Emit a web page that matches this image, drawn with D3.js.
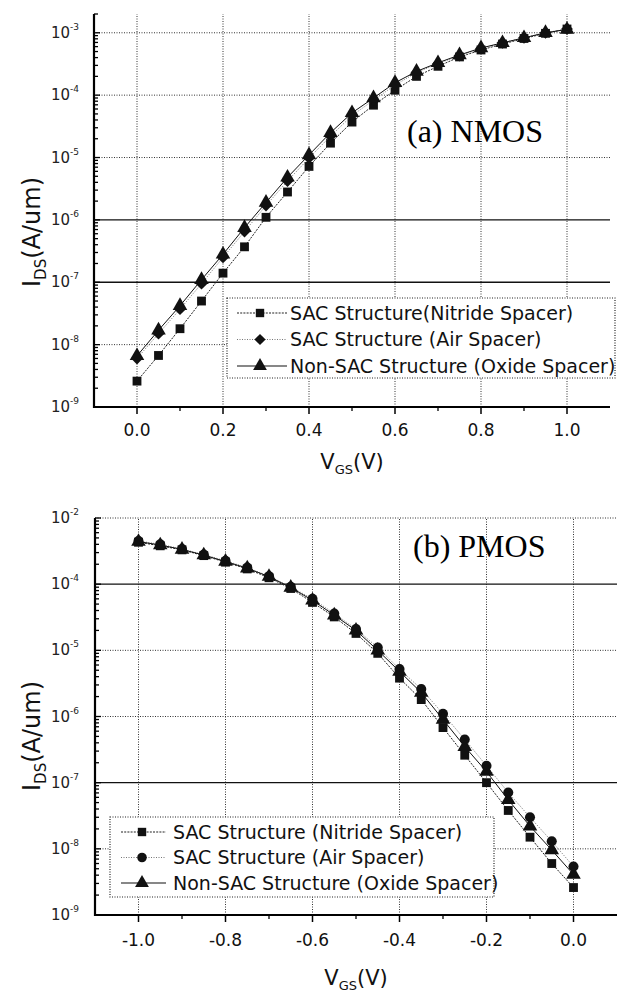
<!DOCTYPE html>
<html>
<head>
<meta charset="utf-8">
<script src="https://cdn.jsdelivr.net/npm/d3@7"></script>
<style>
  body { margin: 0; background: #fff; }
  svg { display: block; font-family: 'DejaVu Sans', sans-serif; }
</style>
</head>
<body>
<div id="container"></div>
<script>
// (a) NMOS, Vgs 0 .. 1.0 V
const vgsN = [0, 0.05, 0.1, 0.15, 0.2, 0.25, 0.3, 0.35, 0.4, 0.45, 0.5,
  0.55, 0.6, 0.65, 0.7, 0.75, 0.8, 0.85, 0.9, 0.95, 1.0];
const nmosNitride = [2.6e-9, 6.7e-9, 1.8e-8, 5.0e-8, 1.4e-7, 3.7e-7, 1.1e-6, 2.8e-6, 7.2e-6, 1.7e-5, 3.7e-5,
  6.9e-5, 1.2e-4, 2.0e-4, 2.9e-4, 4.1e-4, 5.3e-4, 6.6e-4, 8.1e-4, 9.8e-4, 1.15e-3];
const nmosAir = [6.0e-9, 1.5e-8, 3.7e-8, 9.5e-8, 2.5e-7, 6.5e-7, 1.7e-6, 4.2e-6, 9.8e-6, 2.2e-5, 4.7e-5,
  8.3e-5, 1.45e-4, 2.3e-4, 3.2e-4, 4.3e-4, 5.6e-4, 6.9e-4, 8.3e-4, 1.0e-3, 1.15e-3];
const nmosOxide = [6.6e-9, 1.7e-8, 4.2e-8, 1.1e-7, 2.8e-7, 7.5e-7, 1.9e-6, 4.8e-6, 1.1e-5, 2.5e-5, 5.2e-5,
  9.0e-5, 1.58e-4, 2.4e-4, 3.3e-4, 4.4e-4, 5.7e-4, 6.9e-4, 8.3e-4, 1.0e-3, 1.13e-3];

// (b) PMOS, Vgs -1.0 .. 0 V
const vgsP = [-1.0, -0.95, -0.9, -0.85, -0.8, -0.75, -0.7, -0.65, -0.6, -0.55, -0.5,
  -0.45, -0.4, -0.35, -0.3, -0.25, -0.2, -0.15, -0.1, -0.05, 0];
const pmosNitride = [4.3e-4, 3.8e-4, 3.3e-4, 2.7e-4, 2.15e-4, 1.7e-4, 1.25e-4, 8.6e-5, 5.3e-5, 3.2e-5, 1.8e-5,
  9.0e-6, 3.8e-6, 1.8e-6, 6.8e-7, 2.6e-7, 1.0e-7, 3.8e-8, 1.5e-8, 6.0e-9, 2.6e-9];
const pmosAir = [4.5e-4, 4.0e-4, 3.4e-4, 2.8e-4, 2.25e-4, 1.78e-4, 1.32e-4, 9.1e-5, 6.0e-5, 3.6e-5, 2.1e-5,
  1.1e-5, 5.2e-6, 2.6e-6, 1.1e-6, 4.5e-7, 1.8e-7, 7.1e-8, 3.0e-8, 1.3e-8, 5.4e-9];
const pmosOxide = [4.4e-4, 3.9e-4, 3.35e-4, 2.75e-4, 2.2e-4, 1.74e-4, 1.3e-4, 8.9e-5, 5.7e-5, 3.4e-5, 2.0e-5,
  1.0e-5, 4.8e-6, 2.3e-6, 9.0e-7, 3.5e-7, 1.47e-7, 5.5e-8, 2.2e-8, 9.6e-9, 4.1e-9];

const xTicksN = [0, 0.2, 0.4, 0.6, 0.8, 1.0];
const xTicksP = [-1.0, -0.8, -0.6, -0.4, -0.2, 0];
const yTicks = [1e-9, 1e-8, 1e-7, 1e-6, 1e-5, 1e-4, 1e-3];
const yExpN = ['-9', '-8', '-7', '-6', '-5', '-4', '-3'];
const yExpP = ['-9', '-8', '-7', '-6', '-5', '-4', '-2'];
const legendN = ['SAC Structure(Nitride Spacer)', 'SAC Structure (Air Spacer)', 'Non-SAC Structure (Oxide Spacer)'];
const legendP = ['SAC Structure (Nitride Spacer)', 'SAC Structure (Air Spacer)', 'Non-SAC Structure (Oxide Spacer)'];

const svg = d3.select('#container').append('svg').attr('width', 620).attr('height', 993);

const lineStyles = [
  {stroke: '#222', dash: '2,1.2'},
  {stroke: '#777', dash: '1,1.5'},
  {stroke: '#111', dash: null},
];

// marker: symbol type, area, rotation (square turned 45deg = diamond)
const markersN = [
  {type: d3.symbolSquare, size: 78, rot: 0},
  {type: d3.symbolSquare, size: 70, rot: 45},
  {type: d3.symbolTriangle, size: 92, rot: 0},
];
const markersP = [
  {type: d3.symbolSquare, size: 78, rot: 0},
  {type: d3.symbolCircle, size: 80, rot: 0},
  {type: d3.symbolTriangle, size: 92, rot: 0},
];

const panels = [
  {
    xs: vgsN, series: [nmosNitride, nmosAir, nmosOxide], names: legendN, markers: markersN,
    xDomain: [-0.1, 1.1], yDomain: [1e-9, 2e-3],
    left: 94, right: 610, top: 14, bottom: 407,
    xTicks: xTicksN, yExp: yExpN, heavy: [1e-6, 1e-7],
    title: '(a) NMOS', titleX: 407, titleY: 142,
    yLabelY: 232, xLabelY: 469, tickLabelY: 436,
    legend: {x: 227, y: 298, w: 388, h: 80, row: 26.5, lx1: 237, lx2: 287, mx: 260, tx: 290},
  },
  {
    xs: vgsP, series: [pmosNitride, pmosAir, pmosOxide], names: legendP, markers: markersP,
    xDomain: [-1.1, 0.1], yDomain: [1e-9, 1e-3],
    left: 95, right: 617, top: 518, bottom: 915,
    xTicks: xTicksP, yExp: yExpP, heavy: [1e-4, 1e-7],
    title: '(b) PMOS', titleX: 413, titleY: 557,
    yLabelY: 736, xLabelY: 985, tickLabelY: 946,
    legend: {x: 110, y: 817, w: 384, h: 80, row: 25.5, lx1: 121, lx2: 166, mx: 142, tx: 173},
  },
];

const isPow10 = (d) => Math.abs(Math.log10(d) - Math.round(Math.log10(d))) < 1e-6;

const drawPanel = (p) => {
  const g = svg.append('g');
  const x = d3.scaleLinear().domain(p.xDomain).range([p.left, p.right]);
  const y = d3.scaleLog().domain(p.yDomain).range([p.bottom, p.top]);

  // grid
  g.append('g').selectAll('line').data(p.xTicks).join('line')
      .attr('x1', (d) => x(d)).attr('x2', (d) => x(d))
      .attr('y1', p.bottom).attr('y2', p.top)
      .attr('stroke', '#333').attr('stroke-width', 1).attr('stroke-dasharray', '1,1.5');
  g.append('g').selectAll('line').data(yTicks.slice(1)).join('line')
      .attr('x1', p.left).attr('x2', p.right)
      .attr('y1', (d) => y(d)).attr('y2', (d) => y(d))
      .attr('stroke', (d) => p.heavy.includes(d) ? '#111' : '#333')
      .attr('stroke-width', (d) => p.heavy.includes(d) ? 1.3 : 1)
      .attr('stroke-dasharray', (d) => p.heavy.includes(d) ? null : '1,1.5');

  // axes
  g.append('line').attr('x1', p.left).attr('x2', p.left).attr('y1', p.top).attr('y2', p.bottom + 1)
      .attr('stroke', '#000').attr('stroke-width', 2.2);
  g.append('line').attr('x1', p.left - 1).attr('x2', p.right).attr('y1', p.bottom).attr('y2', p.bottom)
      .attr('stroke', '#000').attr('stroke-width', 2.2);

  // y ticks (inward), major + log minor
  g.append('g').selectAll('line').data(y.ticks()).join('line')
      .attr('x1', p.left).attr('x2', (d) => p.left + (isPow10(d) ? 6 : 4))
      .attr('y1', (d) => y(d)).attr('y2', (d) => y(d))
      .attr('stroke', '#000').attr('stroke-width', 1.3);

  // x ticks (outward)
  const xMinor = x.ticks(12).filter((d) => !p.xTicks.some((t) => Math.abs(t - d) < 1e-6));
  g.append('g').selectAll('line').data(xMinor.slice(1, -1)).join('line')
      .attr('x1', (d) => x(d)).attr('x2', (d) => x(d))
      .attr('y1', p.bottom).attr('y2', p.bottom + 4)
      .attr('stroke', '#000').attr('stroke-width', 1.3);
  g.append('g').selectAll('line').data(p.xTicks).join('line')
      .attr('x1', (d) => x(d)).attr('x2', (d) => x(d))
      .attr('y1', p.bottom).attr('y2', p.bottom + 7)
      .attr('stroke', '#000').attr('stroke-width', 1.5);

  // tick labels
  g.append('g').selectAll('text').data(p.xTicks).join('text')
      .attr('x', (d) => x(d)).attr('y', p.tickLabelY)
      .attr('text-anchor', 'middle').attr('font-size', 17).attr('fill', '#111')
      .text((d) => d.toFixed(1));

  const yl = g.append('g').selectAll('text').data(yTicks).join('text')
      .attr('x', 79).attr('y', (d) => y(d) + 5)
      .attr('text-anchor', 'end').attr('fill', '#222');
  yl.append('tspan').attr('font-size', 15).text('10');
  yl.append('tspan').attr('font-size', 9).attr('dy', -8).text((d, i) => p.yExp[i]);

  // axis titles
  const yt = g.append('text')
      .attr('transform', 'translate(40,' + p.yLabelY + ') rotate(-90)')
      .attr('text-anchor', 'middle').attr('font-size', 24).attr('fill', '#111');
  yt.append('tspan').text('I');
  yt.append('tspan').attr('font-size', 15).attr('dy', 6).text('DS');
  yt.append('tspan').attr('dy', -6).text('(A/um)');

  const xt = g.append('text')
      .attr('x', (p.left + p.right) / 2).attr('y', p.xLabelY)
      .attr('text-anchor', 'middle').attr('font-size', 21).attr('fill', '#111');
  xt.append('tspan').text('V');
  xt.append('tspan').attr('font-size', 13).attr('dy', 5).text('GS');
  xt.append('tspan').attr('dy', -5).text('(V)');

  // series
  p.series.forEach((vals, si) => {
    const pts = vals.map((v, i) => [p.xs[i], v]);
    const st = lineStyles[si];
    const m = p.markers[si];
    g.append('path').datum(pts)
        .attr('fill', 'none').attr('stroke', st.stroke).attr('stroke-width', 1)
        .attr('stroke-dasharray', st.dash)
        .attr('d', d3.line().x((d) => x(d[0])).y((d) => y(d[1])));
    g.append('g').selectAll('path').data(pts).join('path')
        .attr('transform', (d) => 'translate(' + x(d[0]) + ',' + y(d[1]) + ') rotate(' + m.rot + ')')
        .attr('d', d3.symbol().type(m.type).size(m.size))
        .attr('fill', '#111');
  });

  // title
  g.append('text').attr('x', p.titleX).attr('y', p.titleY)
      .attr('font-family', 'Liberation Serif, serif').attr('font-size', 32).attr('fill', '#000')
      .text(p.title);

  // legend
  const L = p.legend;
  const lg = g.append('g');
  lg.append('rect').attr('x', L.x).attr('y', L.y).attr('width', L.w).attr('height', L.h)
      .attr('fill', '#fff').attr('stroke', '#222').attr('stroke-width', 1.2)
      .attr('stroke-dasharray', '1,1.5');
  p.names.forEach((name, i) => {
    const cy = L.y + 15 + i * L.row;
    const st = lineStyles[i];
    const m = p.markers[i];
    lg.append('line').attr('x1', L.lx1).attr('x2', L.lx2).attr('y1', cy).attr('y2', cy)
        .attr('stroke', st.stroke).attr('stroke-width', 1.2).attr('stroke-dasharray', st.dash);
    lg.append('path').attr('transform', 'translate(' + L.mx + ',' + cy + ') rotate(' + m.rot + ')')
        .attr('d', d3.symbol().type(m.type).size(m.size * 0.9)).attr('fill', '#111');
    lg.append('text').attr('x', L.tx).attr('y', cy).attr('dy', '0.36em')
        .attr('font-size', 19).attr('fill', '#111').text(name);
  });
};

panels.forEach(drawPanel);
</script>
</body>
</html>
